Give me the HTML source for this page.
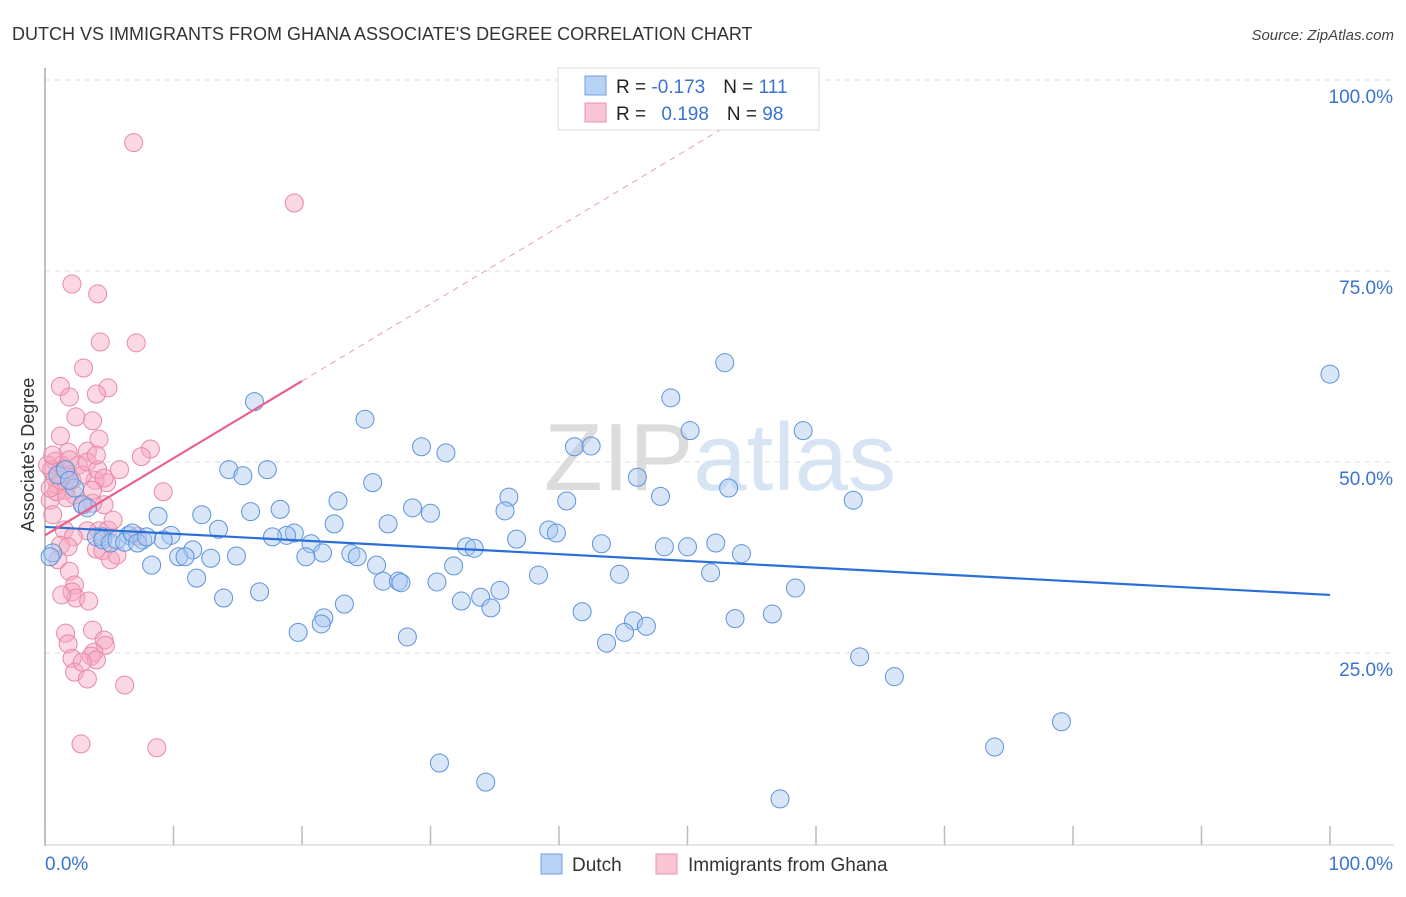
<!DOCTYPE html>
<html><head><meta charset="utf-8">
<style>
body{margin:0;background:#fff;font-family:"Liberation Sans",sans-serif;}
svg text{font-family:"Liberation Sans",sans-serif;}
</style></head>
<body>
<svg id="chart" width="1406" height="892" viewBox="0 0 1406 892">
<text x="12" y="40" font-size="18" fill="#333">DUTCH VS IMMIGRANTS FROM GHANA ASSOCIATE'S DEGREE CORRELATION CHART</text>
<text x="1394" y="40" font-size="15" fill="#444" text-anchor="end" font-style="italic">Source: ZipAtlas.com</text>
<text x="720" y="490" font-size="96" fill="#e4e4e4" text-anchor="middle" font-family="Liberation Serif"><tspan fill="#dcdcdc">ZIP</tspan><tspan fill="#d6e4f4" font-family="Liberation Sans">atlas</tspan></text>
<g id="grid"></g>
<g id="axes"></g>
<text transform="translate(34,455) rotate(-90)" font-size="18" fill="#333" text-anchor="middle">Associate's Degree</text>
<g id="marks"></g>
<g id="trends"></g>
<g>
<rect x="558" y="68" width="261" height="62" fill="#fff" stroke="#ddd"/>
<rect x="585" y="76" width="21" height="19" fill="#b8d2f4" stroke="#6f9fe0"/>
<rect x="585" y="103" width="21" height="19" fill="#f9c4d4" stroke="#eb94b0"/>
<text x="616" y="93" font-size="19" fill="#222">R = <tspan fill="#3a74d0">-0.173</tspan><tspan dx="18">N = </tspan><tspan fill="#3a74d0">111</tspan></text>
<text x="616" y="120" font-size="19" fill="#222">R = <tspan dx="10" fill="#3a74d0">0.198</tspan><tspan dx="18">N = </tspan><tspan fill="#3a74d0">98</tspan></text>
</g>
<g>
<rect x="541" y="854" width="21" height="20" fill="#b8d2f4" stroke="#6f9fe0"/>
<text x="572" y="871" font-size="19" fill="#333">Dutch</text>
<rect x="656" y="854" width="21" height="20" fill="#f9c4d4" stroke="#eb94b0"/>
<text x="688" y="871" font-size="19" fill="#333">Immigrants from Ghana</text>
</g>
</svg>
<script>
const dutchX=[100,52.9,48.7,16.3,24.9,50.2,59.0,41.2,42.5,29.3,31.2,14.3,17.3,15.4,46.1,25.5,53.2,40.6,47.9,62.9,22.8,36.1,28.6,35.8,16.0,18.3,30.0,8.8,12.2,22.5,26.7,13.5,39.2,39.8,9.8,19.4,6.5,18.8,17.7,4.5,9.2,7.6,36.7,43.3,52.2,48.2,50.0,20.7,32.8,33.4,11.5,23.8,21.6,54.2,24.3,20.3,14.9,10.4,12.9,10.9,8.3,25.8,31.8,38.4,44.7,51.8,26.3,27.5,30.5,27.7,11.8,16.7,58.4,35.4,33.9,23.3,32.4,13.9,34.7,41.8,21.7,56.6,45.8,53.7,46.8,45.1,21.5,19.7,28.2,43.7,63.4,66.1,79.1,73.9,30.7,34.3,57.2,1.0,2.3,2.9,3.3,4.0,4.5,5.1,5.6,6.2,6.8,7.2,7.9,0.6,0.4,1.6,1.9];
const dutchY=[61.5,63.0,58.4,57.9,55.6,54.1,54.1,52.0,52.1,52.0,51.2,49.0,49.0,48.2,48.0,47.3,46.6,44.9,45.5,45.0,44.9,45.4,44.0,43.6,43.5,43.8,43.3,42.9,43.1,41.9,41.9,41.2,41.1,40.7,40.4,40.7,40.4,40.4,40.2,40.2,39.8,39.8,39.9,39.3,39.4,38.9,38.9,39.3,38.9,38.7,38.5,38.0,38.1,38.0,37.6,37.6,37.7,37.6,37.4,37.6,36.5,36.5,36.4,35.2,35.3,35.5,34.4,34.4,34.3,34.2,34.8,33.0,33.5,33.2,32.3,31.4,31.8,32.2,30.9,30.4,29.6,30.1,29.2,29.5,28.5,27.7,28.8,27.7,27.1,26.3,24.5,21.9,16.0,12.7,10.6,8.1,5.9,48.3,46.6,44.4,44.0,40.2,39.8,39.4,39.8,39.5,40.7,39.4,40.2,38.1,37.6,49.0,47.6];
const ghanaX=[6.9,19.4,2.1,4.1,4.3,7.1,3.0,1.2,4.9,4.0,1.9,2.4,3.7,1.2,4.2,3.3,8.2,7.5,1.8,0.8,2.6,9.2,4.8,3.9,4.6,3.0,3.7,0.4,0.6,1.5,3.3,4.2,2.2,7.2,1.2,1.8,4.0,4.5,5.1,1.0,1.9,2.3,2.1,2.4,1.3,3.4,1.6,3.7,1.8,2.1,2.3,4.6,4.7,3.8,3.6,4.0,2.9,3.3,6.2,2.8,8.7,0.5,0.8,1.0,1.3,1.6,1.8,2.1,0.9,0.4,1.2,1.5,1.9,2.3,0.2,0.6,1.7,2.9,3.3,4.1,4.6,5.8,5.6,4.9,4.0,3.7,5.3];
const ghanaY=[91.8,83.9,73.3,72.0,65.7,65.6,62.3,59.9,59.7,58.9,58.5,55.9,55.4,53.4,53.0,51.4,51.7,50.7,51.3,50.1,49.6,46.1,47.3,47.6,44.4,44.4,44.6,45.0,43.1,41.1,41.0,41.0,40.2,40.3,39.1,38.9,38.6,38.4,37.2,37.2,35.7,33.9,33.0,32.2,32.6,31.8,27.6,28.0,26.2,24.3,22.5,26.7,26.0,25.1,24.6,24.1,23.8,21.6,20.8,13.1,12.6,49.0,47.9,47.0,49.6,46.3,48.3,47.6,46.1,46.6,47.6,49.0,50.3,45.7,49.6,50.9,45.3,48.3,50.0,49.0,47.9,49.0,37.8,41.1,50.9,46.3,42.4];
const yTicks=[25,50,75,100];
const yTickLabels=["25.0%","50.0%","75.0%","100.0%"];
const xTicks=[0,10,20,30,40,50,60,70,80,90,100];
const dutchTrend=[[0,41.5],[100,32.6]];
const ghanaTrend=[[0,40.4],[20,60.6]];
const ghanaTrendExt=[[20,60.6],[59,100]];

const X=v=>45+v*12.85, Y=v=>844-v*7.64;
const NS="http://www.w3.org/2000/svg";
function mk(t,a,p){const e=document.createElementNS(NS,t);for(const k in a)e.setAttribute(k,a[k]);p.appendChild(e);return e;}
const grid=document.getElementById('grid'),axes=document.getElementById('axes'),marks=document.getElementById('marks'),trends=document.getElementById('trends');
yTicks.forEach((t,i)=>{
 const l=mk('line',{x1:45,x2:1394,y1:Y(t),y2:Y(t),stroke:'#ddd','stroke-dasharray':'5,5'},grid);
 
 
 const tx=mk('text',{x:1393,y:Y(t)+23,'font-size':19,fill:'#3a74d0','text-anchor':'end'},axes);
 tx.textContent=yTickLabels[i];
 
 
});
const ya=mk('line',{x1:45,x2:45,y1:68,y2:846,stroke:'#aaa','stroke-width':1.5},axes);


const xa=mk('line',{x1:45,x2:1394,y1:845,y2:845,stroke:'#ccc'},axes);


xTicks.forEach(t=>{
 const tk=mk('line',{x1:X(t),x2:X(t),y1:826,y2:845,stroke:'#bbb','stroke-width':1.5},axes);
 
 
});
const x0=mk('text',{x:45,y:870,'font-size':19,fill:'#3a74d0'},axes);x0.textContent="0.0%";


const x1=mk('text',{x:1393,y:870,'font-size':19,fill:'#3a74d0','text-anchor':'end'},axes);x1.textContent="100.0%";


function pts(xs,ys,fill,stroke,name){xs.forEach((x,i)=>{
 const c=mk('circle',{cx:X(x),cy:Y(ys[i]),r:9,fill:fill,'fill-opacity':0.45,stroke:stroke,'stroke-width':1},marks);
 
 
});}
pts(ghanaX,ghanaY,'#f6a9c0','#e889a6','ghana-point');
pts(dutchX,dutchY,'#a9c8f0','#5d94dc','dutch-point');
function ln(p,stroke,w,dash,name){const l=mk('line',{x1:X(p[0][0]),y1:Y(p[0][1]),x2:X(p[1][0]),y2:Y(p[1][1]),stroke:stroke,'stroke-width':w},trends);
 if(dash)l.setAttribute('stroke-dasharray',dash);
 
 }
ln(dutchTrend,'#2a6fd6',2.2,null,'dutch-trend-line');
ln(ghanaTrend,'#e8608d',2.2,null,'ghana-trend-line');
ln(ghanaTrendExt,'#e8a0b8',1,'6,5','ghana-trend-extension');
</script>
</body></html>
